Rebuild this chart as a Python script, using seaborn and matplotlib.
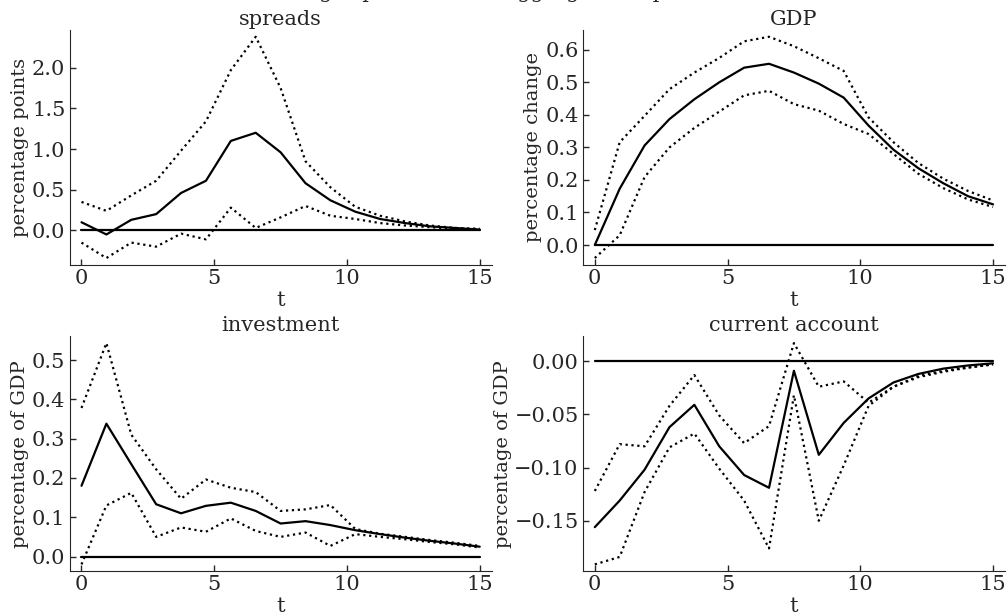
import numpy as np
import pandas as pd
import matplotlib
matplotlib.use("Agg")
import matplotlib.pyplot as plt
import seaborn as sns

# horizon (17 points between 0 and 15)
t = [0, 0.9375, 1.875, 2.8125, 3.75, 4.6875, 5.625, 6.5625, 7.5,
     8.4375, 9.375, 10.3125, 11.25, 12.1875, 13.125, 14.0625, 15]

spreads_mid = [0.10, -0.05, 0.13, 0.20, 0.46, 0.61, 1.10, 1.20, 0.96,
               0.58, 0.37, 0.23, 0.14, 0.09, 0.05, 0.03, 0.01]
spreads_hi = [0.35, 0.24, 0.43, 0.61, 0.98, 1.34, 1.97, 2.38, 1.75,
              0.85, 0.53, 0.29, 0.18, 0.11, 0.06, 0.03, 0.02]
spreads_lo = [-0.15, -0.34, -0.15, -0.20, -0.04, -0.11, 0.28, 0.03, 0.16,
              0.30, 0.18, 0.14, 0.09, 0.06, 0.04, 0.02, 0.01]

gdp_mid = [0.0, 0.173, 0.306, 0.387, 0.448, 0.50, 0.545, 0.557, 0.53,
           0.496, 0.453, 0.367, 0.293, 0.236, 0.19, 0.15, 0.125]
gdp_hi = [0.046, 0.316, 0.397, 0.479, 0.53, 0.575, 0.626, 0.64, 0.611,
          0.574, 0.535, 0.392, 0.316, 0.252, 0.204, 0.166, 0.137]
gdp_lo = [-0.04, 0.03, 0.209, 0.30, 0.36, 0.41, 0.46, 0.474, 0.433,
          0.413, 0.372, 0.341, 0.28, 0.219, 0.175, 0.14, 0.117]

inv_mid = [0.18, 0.338, 0.235, 0.133, 0.11, 0.129, 0.137, 0.116, 0.084,
           0.09, 0.08, 0.067, 0.057, 0.048, 0.04, 0.033, 0.025]
inv_hi = [0.378, 0.543, 0.31, 0.222, 0.147, 0.196, 0.175, 0.164, 0.116,
          0.12, 0.131, 0.07, 0.058, 0.05, 0.042, 0.035, 0.027]
inv_lo = [-0.02, 0.13, 0.162, 0.05, 0.074, 0.063, 0.097, 0.065, 0.05,
          0.061, 0.027, 0.057, 0.05, 0.044, 0.037, 0.031, 0.023]

ca_mid = [-0.156, -0.131, -0.102, -0.062, -0.041, -0.080, -0.107, -0.119, -0.009,
          -0.088, -0.058, -0.035, -0.020, -0.012, -0.007, -0.004, -0.002]
ca_hi = [-0.122, -0.078, -0.080, -0.042, -0.013, -0.051, -0.077, -0.061, 0.017,
         -0.024, -0.019, -0.039, -0.024, -0.015, -0.010, -0.006, -0.003]
ca_lo = [-0.191, -0.184, -0.123, -0.081, -0.068, -0.101, -0.131, -0.176, -0.032,
         -0.150, -0.098, -0.042, -0.024, -0.014, -0.009, -0.006, -0.003]

titles = ["spreads", "GDP", "investment", "current account"]
ylabels = ["percentage points", "percentage change", "percentage of GDP", "percentage of GDP"]
xticks = [0, 5, 10, 15]
yticks = [[0.0, 0.5, 1.0, 1.5, 2.0],
          [0.0, 0.1, 0.2, 0.3, 0.4, 0.5, 0.6],
          [0.0, 0.1, 0.2, 0.3, 0.4, 0.5],
          [-0.15, -0.10, -0.05, 0.00]]

sns.set_style("ticks")
plt.rcParams["font.family"] = ["DejaVu Serif"]
plt.rcParams["font.size"] = 15
plt.rcParams["xtick.direction"] = "in"
plt.rcParams["ytick.direction"] = "in"

fig, axes = plt.subplots(2, 2, figsize=(10.08, 6.15), dpi=100)
fig.subplots_adjust(left=0.069, right=0.997, bottom=0.0715, top=0.951,
                    wspace=0.216, hspace=0.306)

panels = [(spreads_mid, spreads_hi, spreads_lo),
          (gdp_mid, gdp_hi, gdp_lo),
          (inv_mid, inv_hi, inv_lo),
          (ca_mid, ca_hi, ca_lo)]

for ax, (mid, hi, lo), title, ylab, yt in zip(axes.flat, panels, titles, ylabels, yticks):
    df = pd.DataFrame({"t": t, "mid": mid, "hi": hi, "lo": lo})
    sns.lineplot(data=df, x="t", y="mid", color="k", lw=1.6, ax=ax)
    sns.lineplot(data=df, x="t", y="hi", color="k", lw=1.6, linestyle=":", ax=ax)
    sns.lineplot(data=df, x="t", y="lo", color="k", lw=1.6, linestyle=":", ax=ax)
    ax.plot(df["t"], np.zeros(len(df)), color="k", lw=1.6)
    ax.margins(x=0.03, y=0.03)
    ax.set_title(title, fontsize=15, pad=4)
    ax.set_xlabel("t", fontsize=15, labelpad=2)
    ax.set_ylabel(ylab, fontsize=14, labelpad=2)
    ax.set_xticks(xticks)
    ax.set_yticks(yt)
    ax.tick_params(length=4, width=1, labelsize=15, pad=3)
    sns.despine(ax=ax)

# title sits mostly above the canvas, as in the original export
fig.suptitle("Large spread shock: aggregate responses", fontsize=15,
             y=1 + 2.5 / 615, va="baseline")

fig.savefig("out.png", dpi=100)
